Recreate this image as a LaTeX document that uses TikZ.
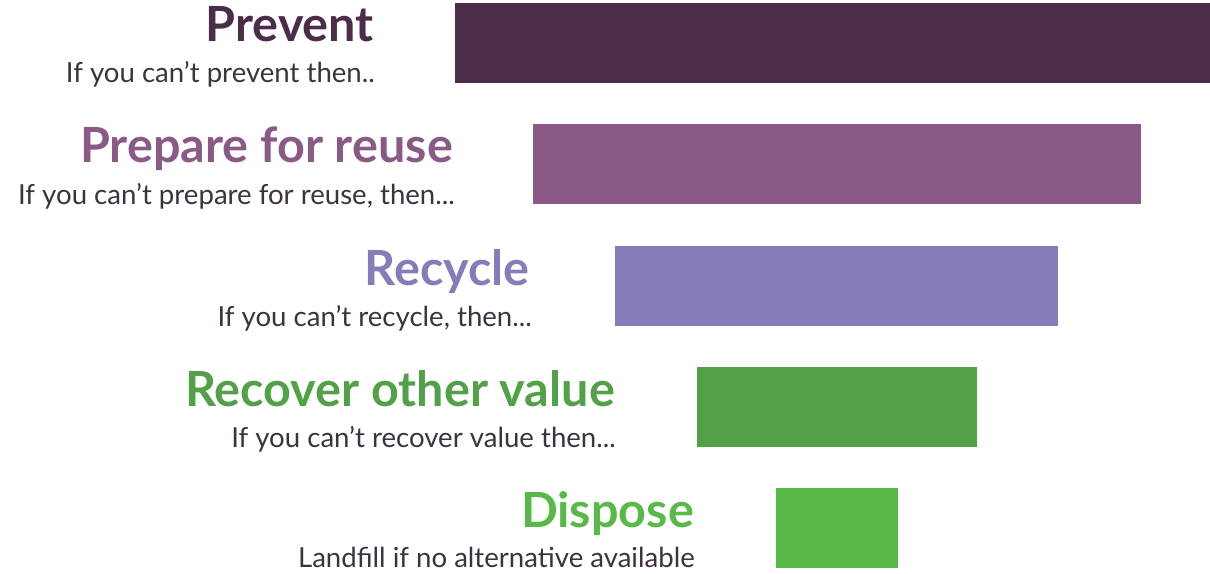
\documentclass[tikz,border=0pt]{standalone}
\usepackage{fontspec}
\setmainfont{Lato}
\definecolor{cPrev}{HTML}{4B2D49}
\definecolor{cPrep}{HTML}{8A5986}
\definecolor{cRecy}{HTML}{877CBA}
\definecolor{cReco}{HTML}{52A047}
\definecolor{cDisp}{HTML}{59B948}
\definecolor{cSub}{HTML}{3D3340}
\tikzset{
  bar/.style={draw=none,fill=#1,anchor=north west,inner sep=0pt,minimum height=80pt},
  ttl/.style={text=#1,anchor=base east,inner sep=0pt,font=\fontsize{48.5}{48}\selectfont\bfseries},
  sub/.style={text=cSub,anchor=base east,inner sep=0pt,font=\fontsize{27.6}{28}\selectfont},
}
\begin{document}
\begin{tikzpicture}[x=1pt,y=-1pt]
\useasboundingbox (0,0) rectangle (1210,573);
\node[bar=cPrev,minimum width=755pt] (b1) at (455,3) {};
\node[bar=cPrep,minimum width=608pt] (b2) at (533,124) {};
\node[bar=cRecy,minimum width=443pt] (b3) at (615,246) {};
\node[bar=cReco,minimum width=280pt] (b4) at (697,367) {};
\node[bar=cDisp,minimum width=122pt] (b5) at (776,488) {};
\node[ttl=cPrev] (t1) at (374,41) {Prevent};
\node[sub] (s1) at (375,82) {If you can’t prevent then..};
\node[ttl=cPrep] (t2) at (453,162) {Prepare for reuse};
\node[sub] (s2) at (455,204) {If you can’t prepare for reuse, then...};
\node[ttl=cRecy] (t3) at (530,285) {Recycle};
\node[sub] (s3) at (532,326) {If you can’t recycle, then...};
\node[ttl=cReco] (t4) at (615,406) {Recover other value};
\node[sub] (s4) at (616,447) {If you can’t recover value then...};
\node[ttl=cDisp] (t5) at (694,527) {Dispose};
\node[sub] (s5) at (695,567) {Landfill if no alternative available};
\end{tikzpicture}
\end{document}
